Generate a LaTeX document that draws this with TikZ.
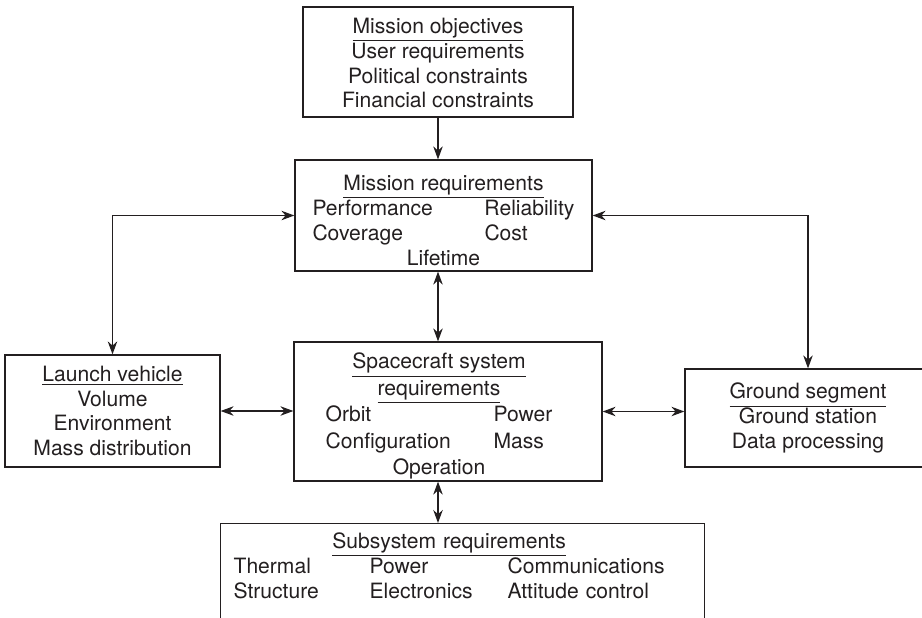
\documentclass[tikz,border=0pt]{standalone}
\usepackage{fontspec}
\setmainfont{TeX Gyre Heros}
\usepackage{array}
\usetikzlibrary{arrows.meta,calc}
\definecolor{ink}{HTML}{231F20}
\newcommand{\boxnudge}[3]{\raisebox{#2}[\height][\depth]{\hspace*{#1}#3}}

\begin{document}
\begin{tikzpicture}[font=\fontsize{12}{14}\selectfont,color=ink,box/.style={draw,line width=0.7pt,align=center,inner sep=0pt},arr/.style={{Stealth[length=2.6mm,width=1.9mm]}-{Stealth[length=2.6mm,width=1.9mm]}, line width=0.7pt},fwd/.style={-{Stealth[length=2.6mm,width=1.9mm]}, line width=0.7pt}]
\useasboundingbox (0,0) rectangle (18.44,12.34);
\clip (0,0) rectangle (18.44,12.34);
\node[box, minimum width=5.4cm, minimum height=2.2cm] (obj) at (8.76,11.10){\boxnudge{0cm}{-0.07cm}{\begin{tabular}{@{}c@{}}\underline{Mission objectives}\\User requirements\\Political constraints\\Financial constraints\end{tabular}}};
\node[box, minimum width=5.94cm, minimum height=2.22cm] (mreq) at (8.87,8.03){\boxnudge{0cm}{-0.15cm}{\begin{tabular}{@{}p{3.44cm}@{}l@{}}\multicolumn{2}{c}{\underline{Mission requirements}}\\Performance & Reliability\\Coverage & Cost\\\multicolumn{2}{c}{Lifetime}\end{tabular}}};
\node[box, minimum width=4.3cm, minimum height=2.24cm] (lv) at (2.25,4.12){\underline{Launch vehicle}\\Volume\\Environment\\Mass distribution};
\node[box, minimum width=6.16cm, minimum height=2.78cm] (sc) at (8.96,4.11){\renewcommand{\arraystretch}{1.07}\boxnudge{-0.36cm}{-0.1cm}{\begin{tabular}{@{}p{3.36cm}@{}l@{}}\multicolumn{2}{c}{\underline{Spacecraft system}}\\\multicolumn{2}{c}{\underline{requirements}}\\Orbit & Power\\Configuration & Mass\\\multicolumn{2}{c}{Operation}\end{tabular}}};
\node[box, minimum width=4.92cm, minimum height=1.96cm] (gs) at (16.16,3.98){\underline{Ground segment}\\Ground station\\Data processing};
\node[box, anchor=north west, align=left, text width=9.16cm, inner xsep=0.26cm, inner ysep=0.15cm] (sub) at (4.4,1.88){\begin{tabular}{@{}p{2.72cm}@{}p{2.76cm}@{}l@{}}\multicolumn{3}{c}{\underline{Subsystem requirements}}\\Thermal & Power & Communications\\Structure & Electronics & Attitude control\rule[-1cm]{0pt}{0pt}\end{tabular}};
\draw[fwd] (obj) -- (obj.south |- mreq.north);
\draw[arr] (mreq.south -| obj.south) -- (sc.north -| obj.south);\draw[arr] (sc.south -| obj.south) -- (sub.north -| obj.south);
\draw[arr] (mreq.west) -| (lv.north);\draw[arr] (mreq.east) -| (gs.north);
\draw[arr] (lv.east) -- (lv.east -| sc.west);\draw[arr] (sc.east) -- (sc.east -| gs.west);
\end{tikzpicture}
\end{document}
